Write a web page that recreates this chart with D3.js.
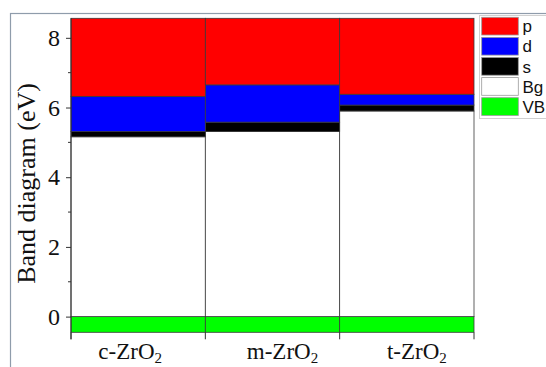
<!DOCTYPE html>
<html>
<head>
<meta charset="utf-8">
<script src="https://cdn.jsdelivr.net/npm/d3@7"></script>
<style>
  html, body { margin: 0; padding: 0; background: #fff; }
  svg { display: block; }
</style>
</head>
<body>
<svg id="chart" width="546" height="367"></svg>
<script>
// Phases of zirconia
const phases = ["c-ZrO2", "m-ZrO2", "t-ZrO2"];
// Band layers (eV): valence band below zero, gap, then s, d, p conduction contributions
const vbDepth = [-0.45, -0.45, -0.45];
const bandGap = [5.16, 5.31, 5.90];
const sBand = [0.15, 0.27, 0.17];
const dBand = [1.01, 1.07, 0.31];
const pBand = [2.24, 1.91, 2.18];
const seriesKeys = ["VB", "Bg", "s", "d", "p"];
const legendKeys = ["p", "d", "s", "Bg", "VB"];
const yTicks = [0, 2, 4, 6, 8];
const yMinorTicks = [1, 3, 5, 7];

const colors = { p: "#ff0000", d: "#0000ff", s: "#000000", Bg: "#ffffff", VB: "#00ff00" };

const rows = phases.map((ph, i) => ({
  phase: ph, VB: vbDepth[i], Bg: bandGap[i], s: sBand[i], d: dBand[i], p: pBand[i]
}));

const stacked = d3.stack().keys(seriesKeys).offset(d3.stackOffsetDiverging)(rows);

const svg = d3.select("#chart");
svg.append("rect").attr("width", 546).attr("height", 367).attr("fill", "#fff");

// outer frame
svg.append("rect")
  .attr("x", 10.5).attr("y", 13.5).attr("width", 700).attr("height", 500)
  .attr("fill", "none").attr("stroke", "#8f9cab").attr("stroke-width", 1.2);

const x = d3.scaleBand().domain(phases).range([71, 474]).padding(0);
const yMin = d3.min(stacked, s => d3.min(s, d => d[0]));
const yMax = d3.max(stacked, s => d3.max(s, d => d[1]));
const y = d3.scaleLinear().domain([yMin, yMax]).range([332.3, 18.3]);

// stacked band rectangles
svg.append("g").selectAll("g").data(stacked).join("g")
  .attr("fill", s => colors[s.key])
  .selectAll("rect").data(s => s).join("rect")
  .attr("x", d => x(d.data.phase))
  .attr("width", x.bandwidth())
  .attr("y", d => y(d[1]))
  .attr("height", d => y(d[0]) - y(d[1]))
  .attr("stroke", "#3a3a3a").attr("stroke-width", 0.8);

const axisColor = "#333";

// y axis
const yAxis = svg.append("g").attr("transform", "translate(71,0)")
  .call(d3.axisLeft(y).tickValues(yTicks).tickSize(5).tickPadding(6).tickFormat(d3.format("d")));
yAxis.select(".domain").remove();
yAxis.selectAll(".tick line").attr("stroke", axisColor).attr("stroke-width", 1);
yAxis.selectAll(".tick text")
  .attr("font-family", "'Liberation Serif', 'Times New Roman', serif")
  .attr("font-size", 24).attr("fill", "#111");
yAxis.append("g").selectAll("line").data(yMinorTicks).join("line")
  .attr("x1", -3).attr("x2", 0)
  .attr("y1", d => y(d)).attr("y2", d => y(d))
  .attr("stroke", axisColor).attr("stroke-width", 1);
svg.append("line")
  .attr("x1", 71).attr("x2", 71).attr("y1", y(yMax)).attr("y2", y(yMin) + 7)
  .attr("stroke", axisColor).attr("stroke-width", 1);

// x axis ticks at the phase boundaries
const edges = phases.map(p => x(p)).concat([x(phases[phases.length - 1]) + x.bandwidth()]);
svg.append("g").selectAll("line").data(edges).join("line")
  .attr("x1", d => d).attr("x2", d => d)
  .attr("y1", y(yMin)).attr("y2", y(yMin) + 7)
  .attr("stroke", axisColor).attr("stroke-width", 1);

// phase labels with subscript
const labelShift = [-8, 10, 10];
const lab = svg.append("g").selectAll("text").data(phases).join("text")
  .attr("x", (d, i) => x(d) + x.bandwidth() / 2 + labelShift[i])
  .attr("y", 359)
  .attr("text-anchor", "middle")
  .attr("font-family", "'Liberation Serif', 'Times New Roman', serif")
  .attr("font-size", 23).attr("fill", "#111");
lab.append("tspan").text(d => d.slice(0, -1));
lab.append("tspan").attr("font-size", 15).attr("dy", 4).text(d => d.slice(-1));

// y axis title
svg.append("text")
  .attr("transform", "translate(34.5,183.5) rotate(-90)")
  .attr("text-anchor", "middle")
  .attr("font-family", "'Liberation Serif', 'Times New Roman', serif")
  .attr("font-size", 26).attr("fill", "#111")
  .text("Band diagram (eV)");

// legend
const leg = svg.append("g");
leg.append("rect")
  .attr("x", 479.5).attr("y", 15.5).attr("width", 100).attr("height", 103)
  .attr("fill", "#fff").attr("stroke", "#d0d0d0").attr("stroke-width", 1);
const item = leg.selectAll("g").data(legendKeys).join("g")
  .attr("transform", (d, i) => `translate(0,${17.3 + i * 20.1})`);
item.append("rect")
  .attr("x", 481.7).attr("y", 0).attr("width", 36.6).attr("height", 17.7)
  .attr("fill", d => colors[d]).attr("stroke", "#9a9a9a").attr("stroke-width", 0.8);
item.append("text")
  .attr("x", 522.5).attr("y", 15)
  .attr("font-family", "'Liberation Sans', Arial, sans-serif")
  .attr("font-size", 17).attr("fill", "#111")
  .text(d => d);
</script>
</body>
</html>
